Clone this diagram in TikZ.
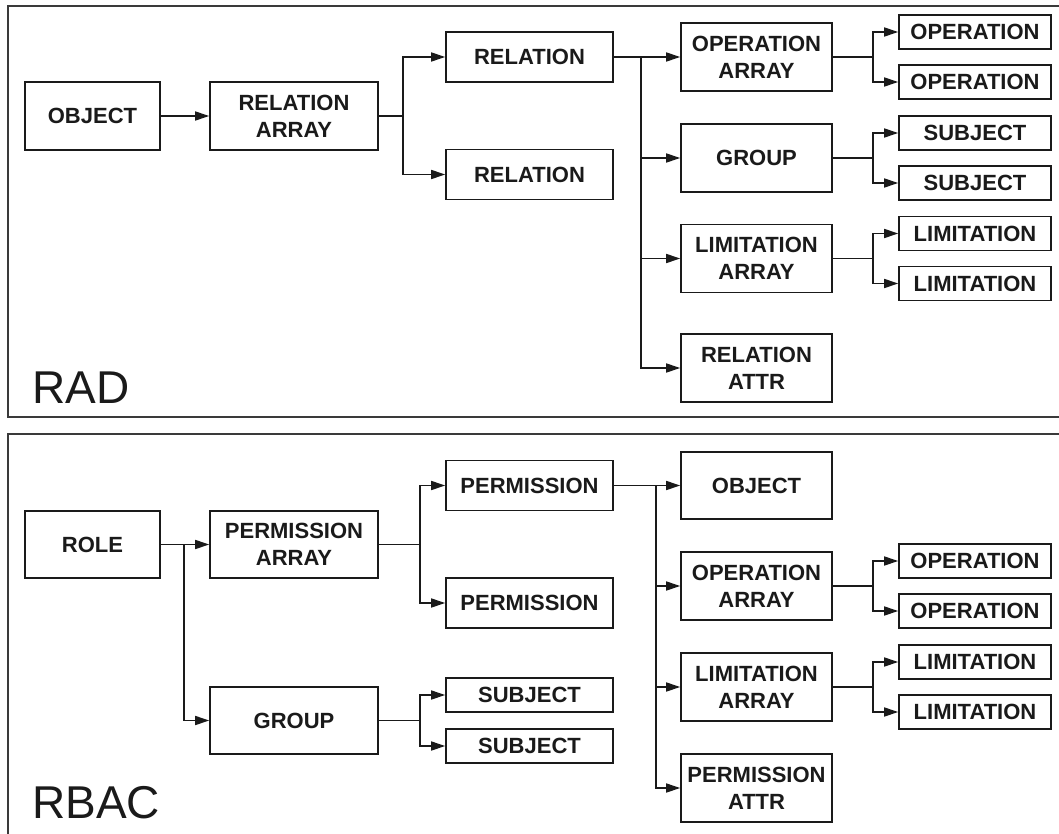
\documentclass[tikz,border=0pt]{standalone}
\usepackage{fontspec}
\usetikzlibrary{arrows.meta}
\newfontfamily\lsans{Liberation Sans}
\definecolor{ink}{HTML}{1A1A1A}
\definecolor{framec}{HTML}{3A3A3A}
\begin{document}
\begin{tikzpicture}[x=1pt,y=-1pt,
  box/.style={draw=ink, line width=1.6pt, fill=white, text=ink, align=center,
    inner sep=0pt, font=\lsans\bfseries\fontsize{22}{27}\selectfont},
  wide/.style={box, minimum width=168pt},
  mid/.style={box, minimum width=151pt},
  leaf/.style={box, minimum width=152pt, minimum height=34pt},
  tall/.style={minimum height=68pt},
  flat/.style={minimum height=50pt},
  link/.style={draw=ink, line width=1.5pt},
  arr/.style={link, -{Triangle[length=14pt,width=9pt]}},
  frame/.style={draw=framec, line width=1.8pt},
  title/.style={anchor=base west, text=ink, inner sep=0pt,
    font=\lsans\fontsize{46}{46}\selectfont}]
\useasboundingbox (0,0) rectangle (1059,834);
\clip (0,0) rectangle (1059,834);
\fill[white] (0,0) rectangle (1059,834);

% frames of the two panels (open on the right and at the bottom)
\draw[frame] (1070,6) -- (8,6) -- (8,417) -- (1070,417);
\draw[frame] (1070,434) -- (8,434) -- (8,850);

% ---------------- RAD ----------------
\node[box, tall, minimum width=135pt] (obj) at (92.5,116) {OBJECT};
\node[wide, tall] (relarr) at (294,116) {RELATION\\ARRAY};
\node[wide, flat, minimum width=167pt] (rel1) at (529.5,57) {RELATION};
\node[wide, flat, minimum width=167pt] (rel2) at (529.5,174.5) {RELATION};
\node[mid, tall] (oparr) at (756.5,57) {OPERATION\\ARRAY};
\node[mid, tall] (grp) at (756.5,158) {GROUP};
\node[mid, tall] (limarr) at (756.5,258.5) {LIMITATION\\ARRAY};
\node[mid, tall] (relattr) at (756.5,368) {RELATION\\ATTR};
\node[leaf] (op1) at (975,32) {OPERATION};
\node[leaf] (op2) at (975,82) {OPERATION};
\node[leaf] (sub1) at (975,133) {SUBJECT};
\node[leaf] (sub2) at (975,183) {SUBJECT};
\node[leaf] (lim1) at (975,233.5) {LIMITATION};
\node[leaf] (lim2) at (975,283.5) {LIMITATION};
\node[title] (rad) at (32,403) {RAD};

\coordinate (j1) at (403,116);
\coordinate (j2) at (641,57);
\coordinate (j3a) at (873,57);
\coordinate (j3b) at (873,158);
\coordinate (j3c) at (873,258.5);

\draw[arr] (obj) -- (relarr);
\draw[link] (relarr.east) -- (j1);
\draw[arr] (j1) |- (rel1);
\draw[arr] (j1) |- (rel2);
\draw[link] (rel1.east) -- (j2);
\draw[arr] (j2) -- (oparr);
\draw[arr] (j2) |- (grp);
\draw[arr] (j2) |- (limarr);
\draw[arr] (j2) |- (relattr);
\draw[link] (oparr.east) -- (j3a);
\draw[arr] (j3a) |- (op1);
\draw[arr] (j3a) |- (op2);
\draw[link] (grp.east) -- (j3b);
\draw[arr] (j3b) |- (sub1);
\draw[arr] (j3b) |- (sub2);
\draw[link] (limarr.east) -- (j3c);
\draw[arr] (j3c) |- (lim1);
\draw[arr] (j3c) |- (lim2);

% ---------------- RBAC ----------------
\node[box, minimum width=135pt, minimum height=67pt] (role) at (92.5,544.5) {ROLE};
\node[wide, minimum height=67pt] (permarr) at (294,544.5) {PERMISSION\\ARRAY};
\node[wide, minimum height=67pt] (bgrp) at (294,720.5) {GROUP};
\node[wide, flat, minimum width=167pt] (perm1) at (529.5,485.5) {PERMISSION};
\node[wide, flat, minimum width=167pt] (perm2) at (529.5,603) {PERMISSION};
\node[wide, minimum width=167pt, minimum height=34pt] (bsub1) at (529.5,695) {SUBJECT};
\node[wide, minimum width=167pt, minimum height=34pt] (bsub2) at (529.5,746) {SUBJECT};
\node[mid, minimum height=67pt] (bobj) at (756.5,485.5) {OBJECT};
\node[mid, tall] (boparr) at (756.5,586) {OPERATION\\ARRAY};
\node[mid, tall] (blimarr) at (756.5,687) {LIMITATION\\ARRAY};
\node[mid, tall] (pattr) at (756.5,788) {PERMISSION\\ATTR};
\node[leaf] (bop1) at (975,561) {OPERATION};
\node[leaf] (bop2) at (975,611) {OPERATION};
\node[leaf] (blim1) at (975,662) {LIMITATION};
\node[leaf] (blim2) at (975,712) {LIMITATION};
\node[title] (rbac) at (32,818) {RBAC};

\coordinate (k0) at (184,544.5);
\coordinate (k1) at (420,544.5);
\coordinate (kg) at (420,720.5);
\coordinate (k2) at (656,485.5);
\coordinate (k3a) at (873,586);
\coordinate (k3b) at (873,687);

\draw[link] (role.east) -- (k0);
\draw[arr] (k0) -- (permarr);
\draw[arr] (k0) |- (bgrp);
\draw[link] (permarr.east) -- (k1);
\draw[arr] (k1) |- (perm1);
\draw[arr] (k1) |- (perm2);
\draw[link] (bgrp.east) -- (kg);
\draw[arr] (kg) |- (bsub1);
\draw[arr] (kg) |- (bsub2);
\draw[link] (perm1.east) -- (k2);
\draw[arr] (k2) -- (bobj);
\draw[arr] (k2) |- (boparr);
\draw[arr] (k2) |- (blimarr);
\draw[arr] (k2) |- (pattr);
\draw[link] (boparr.east) -- (k3a);
\draw[arr] (k3a) |- (bop1);
\draw[arr] (k3a) |- (bop2);
\draw[link] (blimarr.east) -- (k3b);
\draw[arr] (k3b) |- (blim1);
\draw[arr] (k3b) |- (blim2);
\end{tikzpicture}
\end{document}
